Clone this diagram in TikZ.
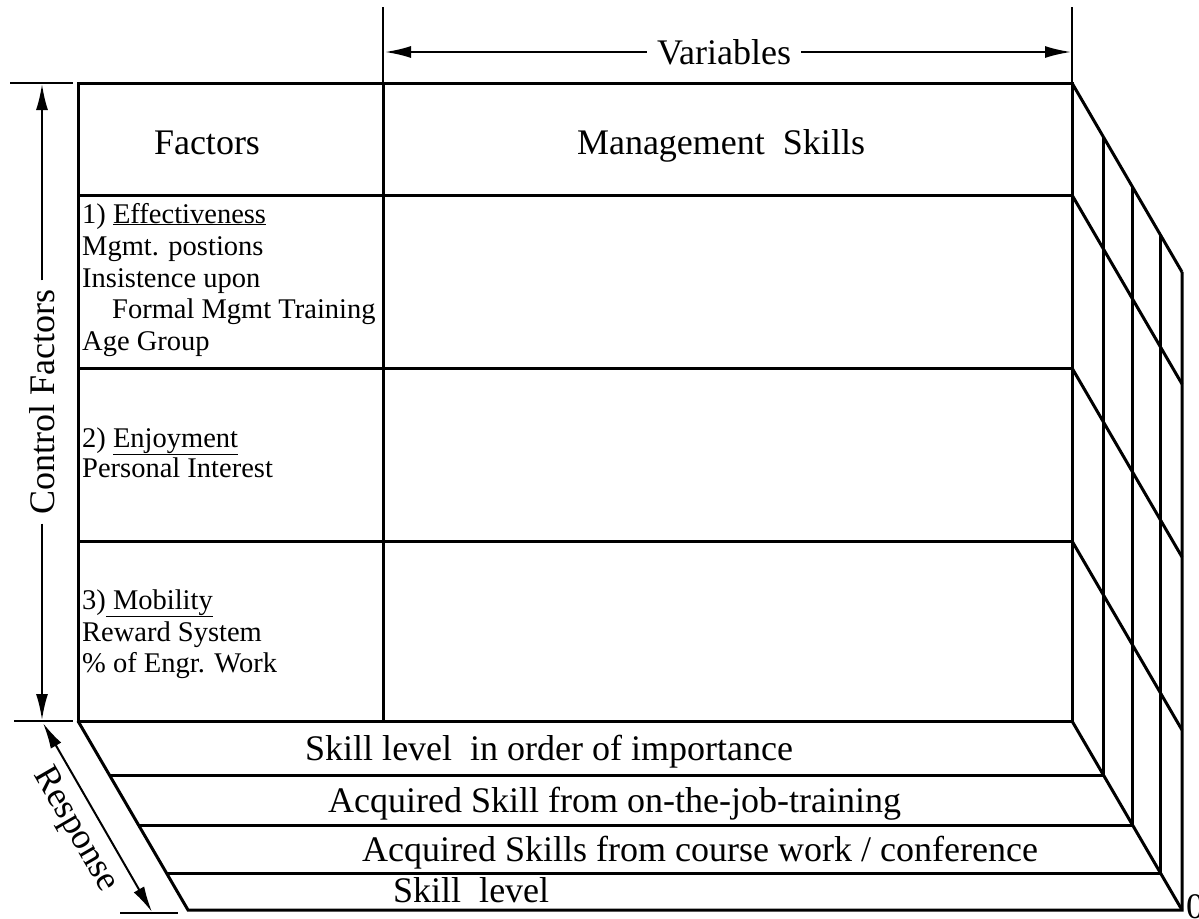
\documentclass[tikz,border=0pt]{standalone}
\usepackage{fontspec}
\setmainfont{Liberation Serif}
\usetikzlibrary{arrows.meta}
\begin{document}
\begin{tikzpicture}[x=1pt,y=-1pt,
  frame/.style={line width=3pt},
  guide/.style={line width=2pt},
  big/.style={font=\fontsize{36}{40}\selectfont},
  small/.style={font=\fontsize{28.5}{32}\selectfont,anchor=base west,inner sep=0pt},
  >={Latex[length=26pt,width=12pt]}]
\useasboundingbox (0,0) rectangle (1199,918);
% Front face: factors against management skills
\draw[frame] (78,83) rectangle (1072,721);
\draw[frame] (383,83) -- (383,721);
\foreach \y in {195,368,541}
  \draw[frame] (78,\y) -- (1072,\y);
% Side wall, one slanted line per row
\foreach \y in {83,195,368,541,721}
  \draw[frame] (1072,\y) -- ++(110,189);
% Floor strips and the wall's uprights, at the same depths
\draw[frame] (78,721) -- (188,910) -- (1182,910) -- (1182,272);
\foreach \d in {54,104,152}
{
  \pgfmathsetmacro\dx{\d/189*110}
  \draw[frame] ({78+\dx},{721+\d}) -- ({1072+\dx},{721+\d});
  \draw[frame] ({1072+\dx},{83+\d}) -- ({1072+\dx},{721+\d});
}
% Headings
\node[big,anchor=base] (fac) at (207,154) {Factors};
\node[big,anchor=base] (mgmt) at (721,154) {Management\ \ Skills};
% Factor lists in the left column
\foreach \t/\x/\y [count=\i] in {
  {1) \underline{Effectiveness}}/82/223,
  {Mgmt. postions}/82/255,
  {Insistence upon}/82/287,
  {Formal Mgmt Training}/112/318,
  {Age Group}/82/350,
  {2) \underline{Enjoyment}}/82/447,
  {Personal\ Interest}/82/477,
  {3)\underline{ Mobility}}/82/609,
  {Reward System}/82/641,
  {\% of Engr. Work}/82/672}
  \node[small] (l\i) at (\x,\y) {\t};
% Responses on the floor strips
\node[big,anchor=base west,inner sep=0pt] (r1) at (305,760) {Skill level\ \ in order of importance};
\node[big,anchor=base west,inner sep=0pt] (r2) at (328,812) {Acquired Skill from on-the-job-training};
\node[big,anchor=base west,inner sep=0pt] (r3) at (362,861) {Acquired Skills from course work / conference};
\node[big,anchor=base west,inner sep=0pt] (r4) at (393,902) {Skill\ \ level};
\node[big,anchor=base west,inner sep=0pt] (zero) at (1186,918) {0};
% Variables across the top
\draw[guide] (383,7) -- (383,83);
\draw[guide] (1072,7) -- (1072,83);
\coordinate (vl) at (385,52);
\coordinate (vr) at (1071,52);
\node[big,inner xsep=10pt] (var) at (724,52) {Variables};
\draw[guide,->] (var.west) -- (vl);
\draw[guide,->] (var.east) -- (vr);
% Control factors up the left side
\draw[guide] (10,83) -- (73,83);
\draw[guide] (14,721) -- (73,721);
\coordinate (cftop) at (42,84);
\coordinate (cfbot) at (42,720);
\node[big,rotate=90,inner xsep=9pt] (cf) at (42,402) {Control Factors};
\draw[guide,->] (cf.east) -- (cftop);
\draw[guide,->] (cf.west) -- (cfbot);
% Response along the slant of the floor
\draw[guide] (120,913) -- (178,913);
\coordinate (rtop) at (43,723);
\coordinate (rbot) at (152,912);
\draw[guide,<->] (rtop) -- (rbot);
\node[big,rotate=-60] (resp) at (75,830) {Response};
\end{tikzpicture}
\end{document}
